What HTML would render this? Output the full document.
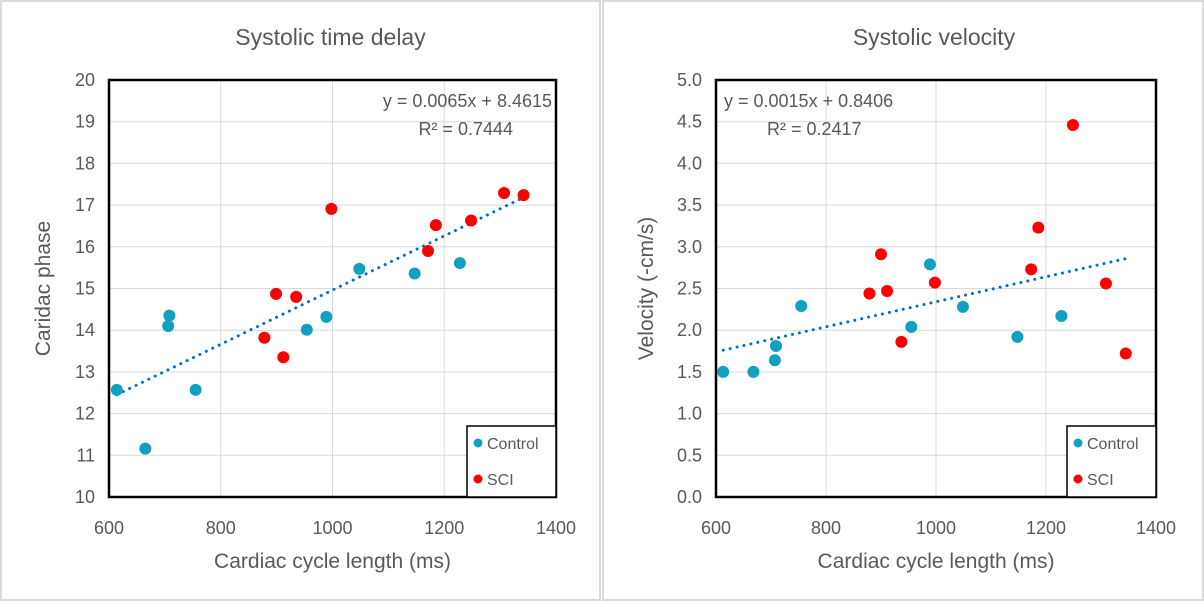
<!DOCTYPE html>
<html><head><meta charset="utf-8"><style>
body{margin:0;background:#fff;}
svg text{font-family:"Liberation Sans",Arial,sans-serif;fill:#595959;}
</style></head><body>
<svg width="1204" height="602" viewBox="0 0 1204 602" xmlns="http://www.w3.org/2000/svg">
<rect x="0" y="0" width="1204" height="602" fill="#fff"/>
<rect x="1" y="1" width="599" height="599" fill="none" stroke="#d9d9d9" stroke-width="2"/>
<rect x="603" y="1" width="600" height="599" fill="none" stroke="#d9d9d9" stroke-width="2"/>
<g id="left"></g>
<g id="right"></g>
</svg>
<script>
const xTicks=[600,800,1000,1200,1400];
const delayTicks=[10,11,12,13,14,15,16,17,18,19,20];
const velTicks=[0,0.5,1,1.5,2,2.5,3,3.5,4,4.5,5];
const delayCtrlX=[614,665,706,708,755,954,989,1048,1147,1228];
const delayCtrlY=[12.57,11.16,14.1,14.35,12.57,14.01,14.32,15.47,15.36,15.61];
const delaySciX=[878,899,912,935,998,1171,1185,1248,1307,1342];
const delaySciY=[13.82,14.87,13.35,14.8,16.91,15.9,16.52,16.63,17.29,17.24];
const velCtrlX=[613,668,707,709,755,955,989,1049,1148,1228];
const velCtrlY=[1.5,1.5,1.64,1.81,2.29,2.04,2.79,2.28,1.92,2.17];
const velSciX=[879,900,911,937,998,1173,1186,1249,1309,1345];
const velSciY=[2.44,2.91,2.47,1.86,2.57,2.73,3.23,4.46,2.56,1.72];
const delayFit=[0.0065,8.4615];
const velFit=[0.0015,0.8406];
const NS='http://www.w3.org/2000/svg';
function mk(p,tag,at,txt){const e=document.createElementNS(NS,tag);for(const k in at)e.setAttribute(k,at[k]);if(txt!==undefined)e.textContent=txt;p.appendChild(e);return e;}
function chart(g,o){
 const L=o.L,R=o.R,T=80,B=497;
 const sx=v=>L+(v-600)/800*(R-L);
 const sy=v=>B-(v-o.ymin)/(o.ymax-o.ymin)*(B-T);
 const t=mk(g,'text',{x:(L+R)/2-2,y:45,'font-size':23,'text-anchor':'middle'},o.title);
 
 
 xTicks.forEach(v=>{const l=mk(g,'line',{x1:sx(v),x2:sx(v),y1:T,y2:B,stroke:'#d9d9d9'});
  
  
  const tx=mk(g,'text',{x:sx(v),y:534,'font-size':18,'text-anchor':'middle'},v);
  
  });
 o.yt.forEach(v=>{const l=mk(g,'line',{x1:L,x2:R,y1:sy(v),y2:sy(v),stroke:'#d9d9d9'});
  
  
  const tx=mk(g,'text',{x:L-14,y:sy(v)+6,'font-size':18,'text-anchor':'end'},o.fmt(v));
  
  });
 const xs=o.cx.concat(o.sx2);const x0=Math.min(...xs),x1=Math.max(...xs);
 const tr=mk(g,'line',{x1:sx(x0),y1:sy(o.fit[0]*x0+o.fit[1]),x2:sx(x1),y2:sy(o.fit[0]*x1+o.fit[1]),stroke:'#0070c0','stroke-width':3,'stroke-dasharray':'0.1 7','stroke-linecap':'round'});
 
 
 o.cx.forEach((x,i)=>{const c=mk(g,'circle',{cx:sx(x),cy:sy(o.cy[i]),r:6,fill:'#12a0c0'});
  
  });
 o.sx2.forEach((x,i)=>{const c=mk(g,'circle',{cx:sx(x),cy:sy(o.sy2[i]),r:6,fill:'#ff0000'});
  
  });
 const f=mk(g,'rect',{x:L,y:T,width:R-L,height:B-T,fill:'none',stroke:'#000','stroke-width':2.5});
 
 
 const e1=mk(g,'text',{x:o.eqx,y:107,'font-size':18,'text-anchor':o.eqa},o.eq1);
 
 
 const e2=mk(g,'text',{x:o.r2x,y:135,'font-size':18,'text-anchor':o.eqa},o.eq2);
 
 
 const lg=mk(g,'g',{});
 
 
 mk(lg,'rect',{x:R-89,y:426,width:89,height:71,fill:'#fff',stroke:'#000','stroke-width':1.5});
 mk(lg,'circle',{cx:R-78,cy:443,r:4.5,fill:'#12a0c0'});
 mk(lg,'text',{x:R-69,y:449,'font-size':16},'Control');
 mk(lg,'circle',{cx:R-78,cy:479,r:4.5,fill:'#ff0000'});
 mk(lg,'text',{x:R-69,y:485,'font-size':16},'SCI');
 const xt=mk(g,'text',{x:(L+R)/2,y:568,'font-size':21,'text-anchor':'middle'},'Cardiac cycle length (ms)');
 
 
 const yt=mk(g,'text',{x:0,y:0,'font-size':21,'text-anchor':'middle',transform:`translate(${o.ytx},${(T+B)/2}) rotate(-90)`},o.ylab);
 
 
}
chart(document.getElementById('left'),{L:109,R:556,ymin:10,ymax:20,yt:delayTicks,fmt:v=>String(v),title:'Systolic time delay',cx:delayCtrlX,cy:delayCtrlY,sx2:delaySciX,sy2:delaySciY,fit:delayFit,eq1:'y = 0.0065x + 8.4615',eq2:'R² = 0.7444',eqx:552,r2x:513,eqa:'end',ylab:'Caridac phase',ytx:50});
chart(document.getElementById('right'),{L:716,R:1156,ymin:0,ymax:5,yt:velTicks,fmt:v=>v.toFixed(1),title:'Systolic velocity',cx:velCtrlX,cy:velCtrlY,sx2:velSciX,sy2:velSciY,fit:velFit,eq1:'y = 0.0015x + 0.8406',eq2:'R² = 0.2417',eqx:724,r2x:767,eqa:'start',ylab:'Velocity (-cm/s)',ytx:653});
</script>
</body></html>
